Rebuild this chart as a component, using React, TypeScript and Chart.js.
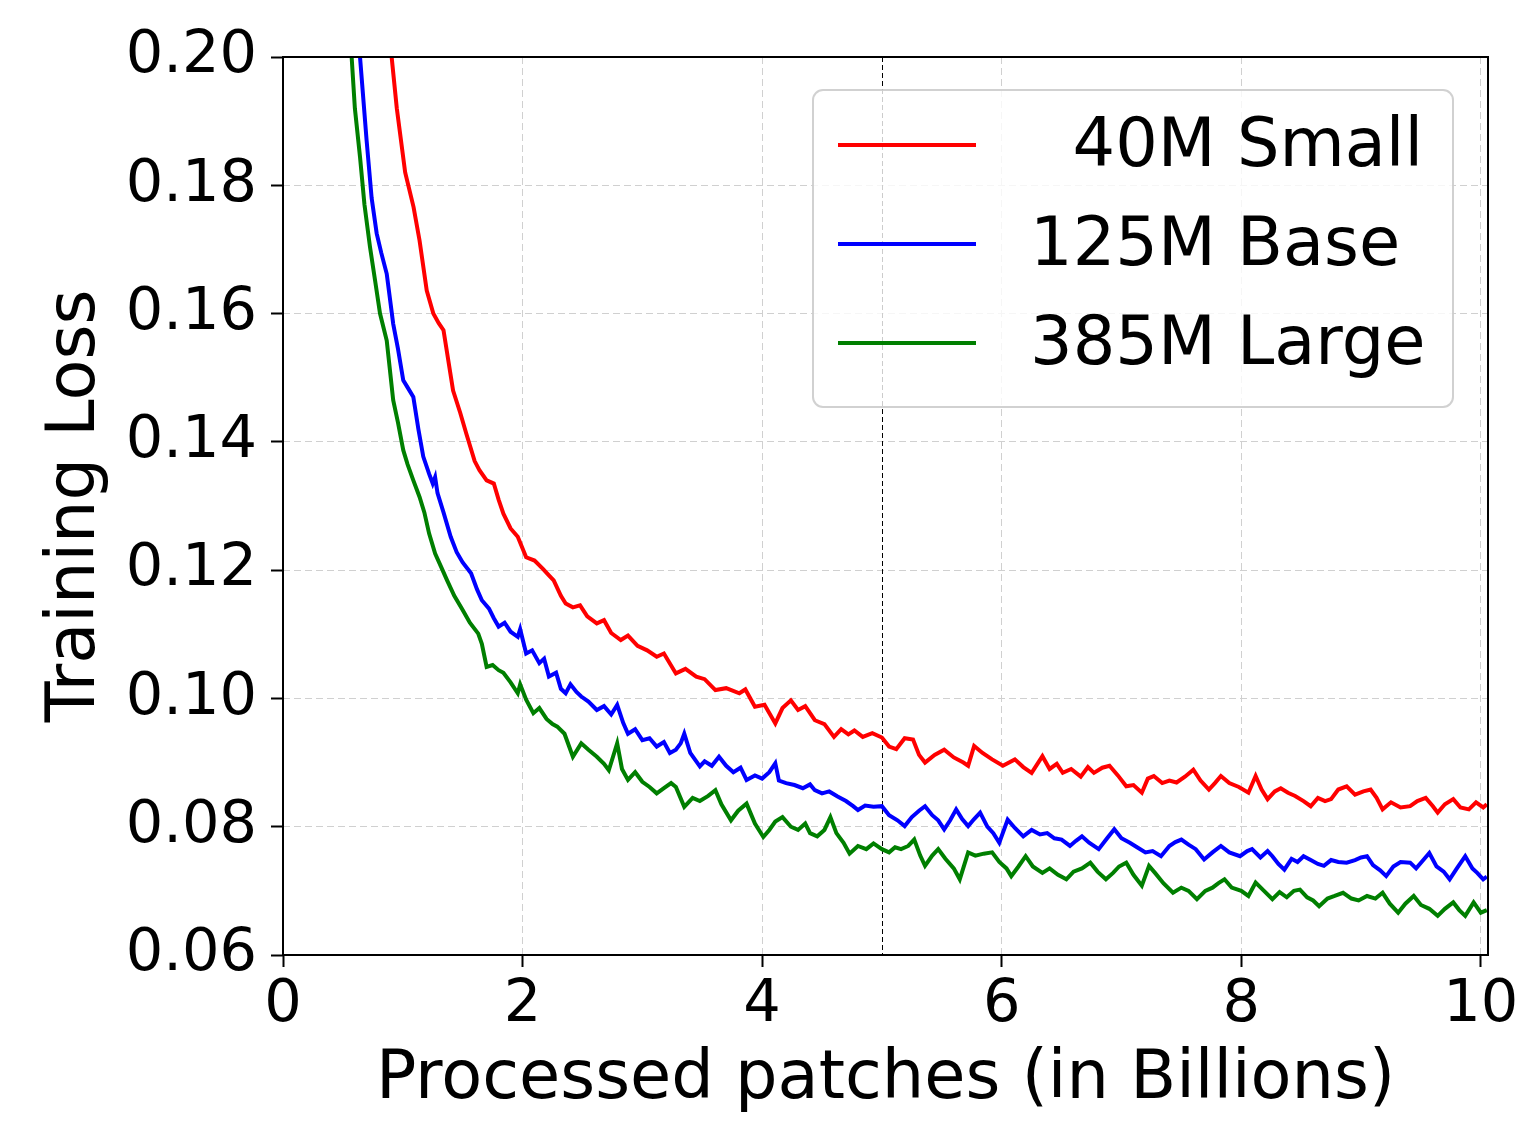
import React, { useEffect, useRef } from 'react';
import { Chart, registerables } from 'chart.js';

Chart.register(...registerables);

const SERIES_LABELS = ['  40M Small', '125M Base', '385M Large'];
const SERIES_COLORS = ['#ff0000', '#0000ff', '#007f00'];

const X_TICKS = [0, 2, 4, 6, 8, 10];
const Y_TICKS = [0.06, 0.08, 0.1, 0.12, 0.14, 0.16, 0.18, 0.2];
const X_MIN = 0;
const X_MAX = 10.06;
const Y_MIN = 0.06;
const Y_MAX = 0.2;
const MARKER_X = 5;

const X_TITLE = 'Processed patches (in Billions)';
const Y_TITLE = 'Training Loss';

const smallX = [0.6, 0.8, 0.907, 0.95, 1.02, 1.09, 1.14, 1.2, 1.255, 1.3, 1.34, 1.42, 1.48, 1.53, 1.6, 1.64, 1.7, 1.76, 1.8, 1.84, 1.9, 1.96, 2.03, 2.1, 2.17, 2.22, 2.26, 2.32, 2.36, 2.42, 2.48, 2.54, 2.62, 2.68, 2.74, 2.82, 2.88, 2.96, 3.04, 3.12, 3.18, 3.28, 3.36, 3.45, 3.52, 3.61, 3.7, 3.81, 3.86, 3.94, 4.02, 4.11, 4.17, 4.24, 4.3, 4.36, 4.44, 4.52, 4.6, 4.66, 4.72, 4.77, 4.84, 4.92, 5.0, 5.06, 5.12, 5.19, 5.26, 5.31, 5.36, 5.44, 5.52, 5.6, 5.68, 5.72, 5.77, 5.84, 5.92, 6.01, 6.11, 6.18, 6.25, 6.34, 6.4, 6.46, 6.51, 6.58, 6.66, 6.72, 6.77, 6.84, 6.9, 6.97, 7.04, 7.1, 7.17, 7.22, 7.27, 7.34, 7.4, 7.46, 7.53, 7.6, 7.66, 7.73, 7.78, 7.83, 7.9, 7.98, 8.06, 8.12, 8.17, 8.22, 8.28, 8.33, 8.39, 8.45, 8.52, 8.58, 8.64, 8.7, 8.75, 8.81, 8.88, 8.95, 9.02, 9.08, 9.13, 9.18, 9.25, 9.33, 9.41, 9.47, 9.54, 9.6, 9.64, 9.7, 9.77, 9.83, 9.9, 9.96, 10.02, 10.05];
const smallY = [0.3, 0.225, 0.2, 0.192, 0.182, 0.1766, 0.1714, 0.1636, 0.16, 0.1585, 0.1574, 0.148, 0.1445, 0.1413, 0.137, 0.1356, 0.134, 0.1335, 0.131, 0.1288, 0.1265, 0.1252, 0.122, 0.1215, 0.1202, 0.1192, 0.1184, 0.116, 0.1148, 0.1142, 0.1145, 0.1128, 0.1117, 0.1122, 0.1102, 0.1091, 0.1098, 0.1082, 0.1075, 0.1065, 0.107, 0.1039, 0.1046, 0.1034, 0.103, 0.1013, 0.1016, 0.1008, 0.1014, 0.0987, 0.099, 0.0961, 0.0985, 0.0997, 0.0982, 0.0988, 0.0966, 0.096, 0.094, 0.0952, 0.0944, 0.095, 0.094, 0.0946, 0.0939, 0.0925, 0.0921, 0.0938, 0.0936, 0.0912, 0.09, 0.0912, 0.092, 0.0908, 0.09, 0.0895, 0.0926, 0.0915, 0.0905, 0.0895, 0.0905, 0.0893, 0.0884, 0.091, 0.089, 0.0898, 0.0884, 0.089, 0.0878, 0.0893, 0.0884, 0.0892, 0.0895, 0.088, 0.0863, 0.0865, 0.0853, 0.0875, 0.0879, 0.0868, 0.0872, 0.0869, 0.0878, 0.0889, 0.0872, 0.0858, 0.0868, 0.0879, 0.0868, 0.0862, 0.0853, 0.0879, 0.0858, 0.0843, 0.0855, 0.086, 0.0853, 0.0848, 0.084, 0.0832, 0.0845, 0.084, 0.0843, 0.0858, 0.0863, 0.085, 0.0855, 0.0858, 0.0845, 0.0827, 0.0838, 0.083, 0.0832, 0.084, 0.0845, 0.0832, 0.0822, 0.0835, 0.0843, 0.083, 0.0827, 0.0838, 0.083, 0.0835];

const baseX = [0.4, 0.55, 0.643, 0.698, 0.74, 0.782, 0.82, 0.866, 0.92, 0.96, 1.004, 1.04, 1.088, 1.13, 1.171, 1.22, 1.25, 1.27, 1.29, 1.34, 1.4, 1.45, 1.5, 1.57, 1.62, 1.66, 1.72, 1.76, 1.8, 1.85, 1.9, 1.96, 1.98, 2.03, 2.08, 2.14, 2.18, 2.22, 2.28, 2.32, 2.36, 2.4, 2.45, 2.49, 2.55, 2.62, 2.68, 2.74, 2.79, 2.84, 2.88, 2.94, 3.0, 3.06, 3.12, 3.18, 3.23, 3.28, 3.32, 3.35, 3.4, 3.48, 3.52, 3.58, 3.64, 3.7, 3.76, 3.82, 3.87, 3.94, 4.0, 4.06, 4.11, 4.14, 4.2, 4.27, 4.34, 4.4, 4.44, 4.5, 4.56, 4.63, 4.7, 4.76, 4.8, 4.86, 4.93, 5.0, 5.06, 5.13, 5.19, 5.25, 5.31, 5.36, 5.42, 5.47, 5.52, 5.57, 5.62, 5.67, 5.72, 5.77, 5.82, 5.88, 5.93, 5.98, 6.05, 6.11, 6.18, 6.25, 6.32, 6.38, 6.44, 6.5, 6.57, 6.62, 6.67, 6.73, 6.81, 6.88, 6.94, 7.0, 7.07, 7.13, 7.2, 7.26, 7.33, 7.4, 7.45, 7.5, 7.56, 7.62, 7.69, 7.76, 7.83, 7.9, 7.99, 8.05, 8.09, 8.16, 8.22, 8.26, 8.31, 8.36, 8.42, 8.47, 8.52, 8.58, 8.64, 8.69, 8.75, 8.81, 8.88, 8.95, 9.0, 9.05, 9.1, 9.16, 9.21, 9.27, 9.33, 9.41, 9.46, 9.52, 9.57, 9.63, 9.69, 9.74, 9.8, 9.87, 9.93, 9.97, 10.02, 10.05];
const baseY = [0.3, 0.225, 0.2, 0.187, 0.178, 0.1725, 0.1695, 0.1662, 0.1584, 0.1545, 0.1496, 0.1485, 0.147, 0.142, 0.1377, 0.135, 0.1335, 0.1345, 0.132, 0.129, 0.1252, 0.1228, 0.1212, 0.1195, 0.117, 0.1153, 0.114, 0.1125, 0.1112, 0.1118, 0.1104, 0.1096, 0.1108, 0.107, 0.1075, 0.1055, 0.1062, 0.1034, 0.104, 0.1015, 0.1008, 0.1022, 0.101, 0.1003, 0.0995, 0.0982, 0.0988, 0.0975, 0.099, 0.0962, 0.0945, 0.0952, 0.0935, 0.0938, 0.0925, 0.0932, 0.0915, 0.092, 0.093, 0.0945, 0.0915, 0.0894, 0.0902, 0.0895, 0.0909, 0.0895, 0.0885, 0.0892, 0.0873, 0.088, 0.0875, 0.0885, 0.0899, 0.0872, 0.0868, 0.0865, 0.086, 0.0866, 0.0857, 0.0852, 0.0855, 0.0847, 0.084, 0.0832, 0.0826, 0.0833, 0.0831, 0.0832, 0.0818, 0.081, 0.0801, 0.0815, 0.0825, 0.0832, 0.0818, 0.081, 0.0796, 0.081, 0.0827, 0.0812, 0.0801, 0.0812, 0.0822, 0.08, 0.079, 0.0775, 0.0811, 0.0798, 0.0785, 0.0795, 0.0788, 0.079, 0.0782, 0.078, 0.077, 0.0778, 0.0785, 0.0775, 0.0765, 0.0782, 0.0796, 0.0782, 0.0775, 0.0768, 0.076, 0.0762, 0.0754, 0.077, 0.0776, 0.078, 0.0772, 0.0765, 0.0749, 0.076, 0.077, 0.076, 0.0754, 0.0762, 0.0765, 0.0752, 0.0762, 0.0754, 0.0742, 0.0733, 0.075, 0.0745, 0.0754, 0.0748, 0.0742, 0.0739, 0.0748, 0.0745, 0.0744, 0.0748, 0.0752, 0.0754, 0.074, 0.0732, 0.0723, 0.0738, 0.0745, 0.0744, 0.0735, 0.0748, 0.0759, 0.0738, 0.073, 0.0718, 0.0735, 0.0754, 0.0735, 0.0728, 0.0718, 0.0722];

const largeX = [0.35, 0.48, 0.573, 0.6, 0.643, 0.68, 0.726, 0.77, 0.81, 0.866, 0.92, 0.96, 1.004, 1.04, 1.088, 1.14, 1.18, 1.22, 1.27, 1.32, 1.37, 1.43, 1.5, 1.56, 1.63, 1.66, 1.7, 1.75, 1.8, 1.84, 1.9, 1.96, 1.98, 2.03, 2.09, 2.14, 2.2, 2.25, 2.29, 2.35, 2.42, 2.49, 2.55, 2.62, 2.68, 2.72, 2.77, 2.79, 2.83, 2.88, 2.94, 3.0, 3.06, 3.12, 3.18, 3.24, 3.28, 3.35, 3.42, 3.48, 3.55, 3.61, 3.66, 3.74, 3.8, 3.87, 3.94, 4.01, 4.06, 4.11, 4.17, 4.24, 4.3, 4.36, 4.4, 4.46, 4.52, 4.57, 4.62, 4.68, 4.73, 4.8, 4.87, 4.93, 5.0, 5.06, 5.11, 5.16, 5.22, 5.27, 5.32, 5.36, 5.42, 5.47, 5.53, 5.6, 5.65, 5.72, 5.78, 5.85, 5.92, 5.98, 6.04, 6.08, 6.14, 6.2, 6.26, 6.34, 6.4, 6.47, 6.54, 6.6, 6.67, 6.74, 6.8, 6.87, 6.93, 6.98, 7.04, 7.1, 7.17, 7.23, 7.28, 7.35, 7.43, 7.5, 7.56, 7.63, 7.7, 7.76, 7.81, 7.86, 7.92, 8.0, 8.06, 8.12, 8.19, 8.26, 8.32, 8.38, 8.44, 8.49, 8.55, 8.6, 8.65, 8.72, 8.78, 8.85, 8.92, 8.98, 9.05, 9.12, 9.18, 9.24, 9.31, 9.37, 9.44, 9.5, 9.57, 9.64, 9.7, 9.77, 9.82, 9.87, 9.94, 10.0, 10.05];
const largeY = [0.3, 0.23, 0.2, 0.192, 0.1844, 0.177, 0.1704, 0.165, 0.16, 0.1558, 0.1465, 0.143, 0.1387, 0.1365, 0.134, 0.1314, 0.129, 0.1257, 0.1226, 0.1205, 0.1184, 0.116, 0.1138, 0.1118, 0.1101, 0.1085, 0.1049, 0.1052, 0.1044, 0.104, 0.1025, 0.1008, 0.1022, 0.0998, 0.0977, 0.0985, 0.0968, 0.096, 0.0956, 0.0945, 0.0909, 0.093, 0.092, 0.0909, 0.0898, 0.0888, 0.0918, 0.093, 0.089, 0.0873, 0.0885, 0.087, 0.0862, 0.0852, 0.086, 0.0868, 0.0862, 0.0831, 0.0845, 0.084, 0.0848, 0.0857, 0.0835, 0.081, 0.0825, 0.0836, 0.0805, 0.0784, 0.0795, 0.0808, 0.0815, 0.08, 0.0795, 0.0805, 0.079, 0.0785, 0.0795, 0.0815, 0.079, 0.0775, 0.0758, 0.077, 0.0765, 0.0774, 0.0765, 0.076, 0.0768, 0.0765, 0.077, 0.078, 0.0755, 0.0739, 0.0755, 0.0765, 0.075, 0.0735, 0.0718, 0.076, 0.0755, 0.0758, 0.076, 0.0745, 0.0735, 0.0723, 0.0738, 0.0754, 0.0738, 0.0728, 0.0735, 0.0725, 0.0718, 0.073, 0.0735, 0.0744, 0.073, 0.0718, 0.0728, 0.0738, 0.0744, 0.0725, 0.0708, 0.0739, 0.0728, 0.0712, 0.0697, 0.0705, 0.07, 0.0687, 0.07, 0.0705, 0.0712, 0.0718, 0.0705, 0.07, 0.0692, 0.0713, 0.07, 0.0687, 0.0698, 0.069, 0.07, 0.0702, 0.069, 0.0685, 0.0676, 0.0688, 0.0692, 0.0697, 0.0688, 0.0685, 0.0692, 0.0688, 0.0697, 0.068, 0.0666, 0.068, 0.0692, 0.0678, 0.0672, 0.0661, 0.0672, 0.0682, 0.067, 0.0661, 0.0682, 0.0666, 0.067];

const SERIES_X = [smallX, baseX, largeX];
const SERIES_Y = [smallY, baseY, largeY];

const FONT = '"DejaVu Sans", "Liberation Sans", sans-serif';

const frameAndMarker = {
  id: 'frameAndMarker',
  beforeDatasetsDraw(chart: any) {
    const { ctx, chartArea, scales } = chart;
    const px = scales.x.getPixelForValue(MARKER_X);
    ctx.save();
    ctx.strokeStyle = '#000';
    ctx.lineWidth = 1;
    ctx.setLineDash([5, 3]);
    ctx.beginPath();
    ctx.moveTo(Math.round(px) + 0.5, chartArea.top);
    ctx.lineTo(Math.round(px) + 0.5, chartArea.bottom);
    ctx.stroke();
    ctx.restore();
  },
  afterDatasetsDraw(chart: any) {
    const { ctx, chartArea } = chart;
    ctx.save();
    ctx.strokeStyle = '#000';
    ctx.lineWidth = 2;
    ctx.setLineDash([]);
    ctx.strokeRect(chartArea.left, chartArea.top, chartArea.right - chartArea.left, chartArea.bottom - chartArea.top);
    ctx.restore();
  },
};

const legendBox = {
  id: 'legendBox',
  afterDraw(chart: any) {
    const { ctx, chartArea } = chart;
    const w = 640;
    const h = 317;
    const left = chartArea.right - 35 - w;
    const top = chartArea.top + 33;
    const r = 10;
    ctx.save();
    ctx.beginPath();
    ctx.moveTo(left + r, top);
    ctx.lineTo(left + w - r, top);
    ctx.arcTo(left + w, top, left + w, top + r, r);
    ctx.lineTo(left + w, top + h - r);
    ctx.arcTo(left + w, top + h, left + w - r, top + h, r);
    ctx.lineTo(left + r, top + h);
    ctx.arcTo(left, top + h, left, top + h - r, r);
    ctx.lineTo(left, top + r);
    ctx.arcTo(left, top, left + r, top, r);
    ctx.closePath();
    ctx.fillStyle = 'rgba(255,255,255,0.8)';
    ctx.fill();
    ctx.strokeStyle = 'rgba(204,204,204,0.9)';
    ctx.lineWidth = 2;
    ctx.stroke();
    chart.data.datasets.forEach((ds: any, i: number) => {
      const y = top + 55 + i * 99;
      ctx.strokeStyle = ds.borderColor;
      ctx.lineWidth = 4;
      ctx.beginPath();
      ctx.moveTo(left + 25, y);
      ctx.lineTo(left + 163, y);
      ctx.stroke();
      ctx.fillStyle = '#000';
      ctx.font = `67px ${FONT}`;
      ctx.textAlign = 'left';
      ctx.textBaseline = 'middle';
      ctx.fillText(ds.label, left + 217, y + 4);
    });
    ctx.restore();
  },
};

export default function App() {
  const ref = useRef<HTMLCanvasElement | null>(null);
  useEffect(() => {
    if (!ref.current) return;
    const datasets = SERIES_LABELS.map((label, i) => ({
      label,
      data: SERIES_X[i].map((x, j) => ({ x, y: SERIES_Y[i][j] })),
      borderColor: SERIES_COLORS[i],
      backgroundColor: SERIES_COLORS[i],
      borderWidth: 4,
      pointRadius: 0,
      tension: 0,
      fill: false,
      clip: 0,
    }));
    const chart = new Chart(ref.current, {
      type: 'line',
      data: { datasets },
      plugins: [frameAndMarker, legendBox],
      options: {
        responsive: false,
        animation: false,
        devicePixelRatio: 1,
        layout: { padding: { top: 57, right: 34, left: 0, bottom: 0 } },
        plugins: { legend: { display: false }, tooltip: { enabled: false }, title: { display: false } },
        scales: {
          x: {
            type: 'linear',
            min: X_MIN,
            max: X_MAX,
            afterBuildTicks: (s: any) => {
              s.ticks = X_TICKS.map((v) => ({ value: v }));
            },
            afterFit: (s: any) => {
              s.height = 171;
              s.paddingLeft = 0;
              s.paddingRight = 0;
            },
            ticks: {
              autoSkip: false,
              maxRotation: 0,
              padding: 3,
              color: '#000',
              font: { family: FONT, size: 59 },
              callback: (v: any) => String(v),
            },
            grid: {
              color: '#d0d0d0',
              lineWidth: 1,
              tickColor: '#000',
              tickWidth: 2,
              tickLength: 12,
            },
            border: { display: false, dash: [7, 4] },
            title: {
              display: true,
              text: X_TITLE,
              color: '#000',
              font: { family: FONT, size: 67 },
              padding: { top: 0, bottom: 5 },
            },
          },
          y: {
            type: 'linear',
            min: Y_MIN,
            max: Y_MAX,
            afterBuildTicks: (s: any) => {
              s.ticks = Y_TICKS.map((v) => ({ value: v }));
            },
            afterFit: (s: any) => {
              s.width = 283;
              s.paddingTop = 0;
              s.paddingBottom = 0;
            },
            ticks: {
              autoSkip: false,
              padding: 14,
              color: '#000',
              font: { family: FONT, size: 59 },
              callback: (v: any) => Number(v).toFixed(2),
            },
            grid: {
              color: '#d0d0d0',
              lineWidth: 1,
              tickColor: '#000',
              tickWidth: 2,
              tickLength: 12,
            },
            border: { display: false, dash: [7, 4] },
            title: {
              display: true,
              text: Y_TITLE,
              color: '#000',
              font: { family: FONT, size: 67 },
              padding: { top: 36, bottom: 0 },
            },
          },
        },
      } as any,
    });
    return () => chart.destroy();
  }, []);
  return (
    <div style={{ position: 'absolute', left: 0, top: 0, width: 1522, height: 1126, background: '#fff' }}>
      <canvas ref={ref} width={1522} height={1126} style={{ display: 'block', width: 1522, height: 1126 }} />
    </div>
  );
}
